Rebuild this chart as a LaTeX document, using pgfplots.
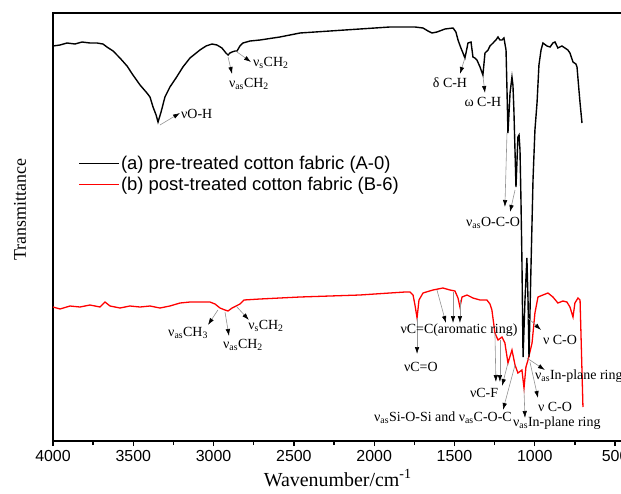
\documentclass[border=0pt]{standalone}
\usepackage{fontspec}
\setmainfont{Liberation Serif}
\setsansfont{Liberation Sans}
\usepackage{pgfplots}
\pgfplotsset{compat=1.18}
\usetikzlibrary{arrows.meta}

\begin{document}
\begin{tikzpicture}[
  ann/.style={font=\fontsize{14}{16}\selectfont, inner sep=0pt},
  arr/.style={draw=gray!85, line width=0.6pt, -{Latex[black,length=7bp,width=4.5bp]}}
]
\begin{axis}[
  scale only axis, width=569.3bp, height=428bp,
  x dir=reverse, xmin=455, xmax=4000,
  y dir=reverse, ymin=13, ymax=441,
  ytick=\empty,
  xtick={500,1000,...,4000},
  minor x tick num=1,
  xtick pos=bottom, tick align=outside,
  major tick length=5bp, minor tick length=4bp,
  every tick/.style={black, line width=1.3pt},
  axis line style={line width=1.6pt},
  /pgf/number format/assume math mode=true,
  /pgf/number format/set thousands separator={},
  xticklabel style={font=\sffamily\fontsize{16}{16}\selectfont, yshift=-1bp},
  xlabel={Wavenumber/cm\textsuperscript{-1}},
  xlabel style={font=\fontsize{20}{22}\selectfont, at={(axis description cs:0.5,0)}, anchor=center, yshift=-37bp},
  ylabel={Transmittance},
  ylabel style={font=\fontsize{18}{20}\selectfont, at={(axis description cs:-0.058,0.54)}, anchor=center},
  legend style={draw=none, fill=none, at={(axis description cs:0.045,0.668)}, anchor=north west,
    font=\sffamily\fontsize{18.5}{20}\selectfont, row sep=4bp, inner sep=0pt, nodes={inner sep=1pt}},
  legend cell align=left,
  legend image code/.code={\draw[#1] (0bp,0bp) -- (40bp,0bp);},
]
\addlegendimage{black, line width=1.3pt}
\addlegendentry{(a) pre-treated cotton fabric (A-0)}
\addlegendimage{red, line width=1.3pt}
\addlegendentry{(b) post-treated cotton fabric (B-6)}

% red: post-treated
\addplot[red, line width=1.3pt, forget plot] coordinates {
(4000,307)(3956,309)(3894,306)(3832,307)(3770,305)(3707,307)(3676,302)(3645,306)
(3583,308)(3521,306)(3458,307)(3396,306)(3334,308)(3272,306)(3209,303)(3147,302)
(3085,302)(3023,302)(2991,304)(2960,308)(2929,310)(2910,311)(2885,308)(2860,306)
(2836,304)(2811,300)(2711,299)(2587,298)(2462,297)(2275,296)(2089,295)(1902,293)
(1808,292)(1777,292)(1758,295)(1746,305)(1733,318)(1721,300)(1696,293)(1634,290)
(1572,288)(1528,290)(1497,291)(1478,298)(1466,307)(1453,297)(1422,295)(1385,298)
(1341,300)(1298,300)(1279,304)(1267,310)(1248,333)(1229,340)(1204,337)(1186,343)
(1167,363)(1142,350)(1123,365)(1105,373)(1080,370)(1067,388)(1055,367)(1042,360)
(1017,343)(999,313)(980,297)(949,295)(918,293)(887,297)(856,303)(825,301)
(800,302)(781,307)(762,317)(750,303)(731,298)(718,300)(700,407)
};

% black: pre-treated
\addplot[black, line width=1.4pt, forget plot] coordinates {
(4000,46)(3956,45)(3913,43)(3863,44)(3819,42)(3770,43)(3726,43)(3689,44)(3664,47)
(3626,51)(3583,58)(3539,66)(3502,75)(3458,85)(3415,93)(3396,97)(3377,107)(3358,115)
(3346,122)(3327,112)(3303,97)(3272,87)(3234,78)(3191,67)(3147,58)(3085,50)(3047,46)
(3010,44)(2979,45)(2948,48)(2923,53)(2910,55)(2898,53)(2885,52)(2867,51)(2854,51)
(2836,46)(2817,43)(2773,41)(2711,40)(2587,37)(2462,33)(2275,31)(2089,29)(1902,27)
(1839,27)(1746,27)(1696,28)(1665,31)(1640,33)(1609,32)(1559,29)(1509,28)(1491,32)
(1478,40)(1460,48)(1447,53)(1435,58)(1422,48)(1416,43)(1397,42)(1385,57)(1373,58)
(1360,60)(1341,67)(1323,75)(1310,53)(1291,50)(1279,46)(1260,43)(1242,40)(1229,37)
(1217,40)(1204,40)(1192,38)(1179,50)(1173,90)(1167,133)(1154,93)(1142,77)(1136,85)
(1130,110)(1117,187)(1105,137)(1098,135)(1092,150)(1086,200)(1080,260)(1073,357)
(1061,300)(1049,258)(1042,300)(1036,357)(1024,270)(1011,180)(999,130)(986,103)
(974,65)(961,50)(949,43)(924,46)(905,47)(887,43)(874,42)(856,48)(831,46)(812,48)
(794,50)(781,53)(762,62)(744,64)(737,67)(725,90)(718,103)(706,123)
};

% annotations: black curve
\draw[arr] (axis cs:3334,125) -- (axis cs:3209,113);
\node[ann, anchor=west] at (axis cs:3203,114) {νO-H};
\draw[arr] (axis cs:2910,57) -- (axis cs:2885,74);
\node[ann] at (axis cs:2780,84) {ν\textsubscript{as}CH\textsubscript{2}};
\draw[arr] (axis cs:2854,52) -- (axis cs:2767,62);
\node[ann, anchor=west] at (axis cs:2755,63) {ν\textsubscript{s}CH\textsubscript{2}};
\draw[arr] (axis cs:1435,58) -- (axis cs:1466,74);
\node[ann] at (axis cs:1528,83) {δ C-H};
\draw[arr] (axis cs:1323,76) -- (axis cs:1310,93);
\node[ann] at (axis cs:1323,102) {ω C-H};
\draw[arr] (axis cs:1173,133) -- (axis cs:1186,207);
\draw[arr] (axis cs:1123,190) -- (axis cs:1154,212);
\node[ann] at (axis cs:1260,223) {ν\textsubscript{as}O-C-O};

% annotations: red curve
\draw[arr] (axis cs:2973,310) -- (axis cs:3035,325);
\node[ann] at (axis cs:3159,333) {ν\textsubscript{as}CH\textsubscript{3}};
\draw[arr] (axis cs:2929,312) -- (axis cs:2904,336);
\node[ann] at (axis cs:2817,345) {ν\textsubscript{as}CH\textsubscript{2}};
\draw[arr] (axis cs:2860,306) -- (axis cs:2780,320);
\node[ann] at (axis cs:2674,326) {ν\textsubscript{s}CH\textsubscript{2}};
\draw[arr] (axis cs:1733,318) -- (axis cs:1733,354);
\node[ann] at (axis cs:1709,367) {νC=O};
\draw[arr] (axis cs:1609,290) -- (axis cs:1553,323);
\draw[arr] (axis cs:1509,292) -- (axis cs:1509,323);
\draw[arr] (axis cs:1466,300) -- (axis cs:1466,323);
\node[ann] at (axis cs:1472,330) {νC=C(aromatic ring)};
\draw[arr] (axis cs:1248,333) -- (axis cs:1242,382);
\draw[arr] (axis cs:1217,340) -- (axis cs:1217,382);
\draw[arr] (axis cs:1167,363) -- (axis cs:1204,386);
\node[ann] at (axis cs:1316,393) {νC-F};
\draw[arr] (axis cs:1123,365) -- (axis cs:1198,410);
\node[ann] at (axis cs:1572,418) {ν\textsubscript{as}Si-O-Si and ν\textsubscript{as}C-O-C};
\draw[arr] (axis cs:1067,390) -- (axis cs:1061,418);
\node[ann, anchor=west] at (axis cs:1136,423) {ν\textsubscript{as}In-plane ring};
\draw[arr] (axis cs:1030,362) -- (axis cs:980,398);
\node[ann] at (axis cs:874,407) {ν C-O};
\draw[arr] (axis cs:1049,358) -- (axis cs:937,370);
\node[ann, anchor=west] at (axis cs:999,376) {ν\textsubscript{as}In-plane ring};
\draw[arr] (axis cs:1042,318) -- (axis cs:961,330);
\node[ann] at (axis cs:843,340) {ν C-O};
\end{axis}
\pgfresetboundingbox
\useasboundingbox (-53bp,-53bp) rectangle (568bp,441bp);
\end{tikzpicture}
\end{document}
